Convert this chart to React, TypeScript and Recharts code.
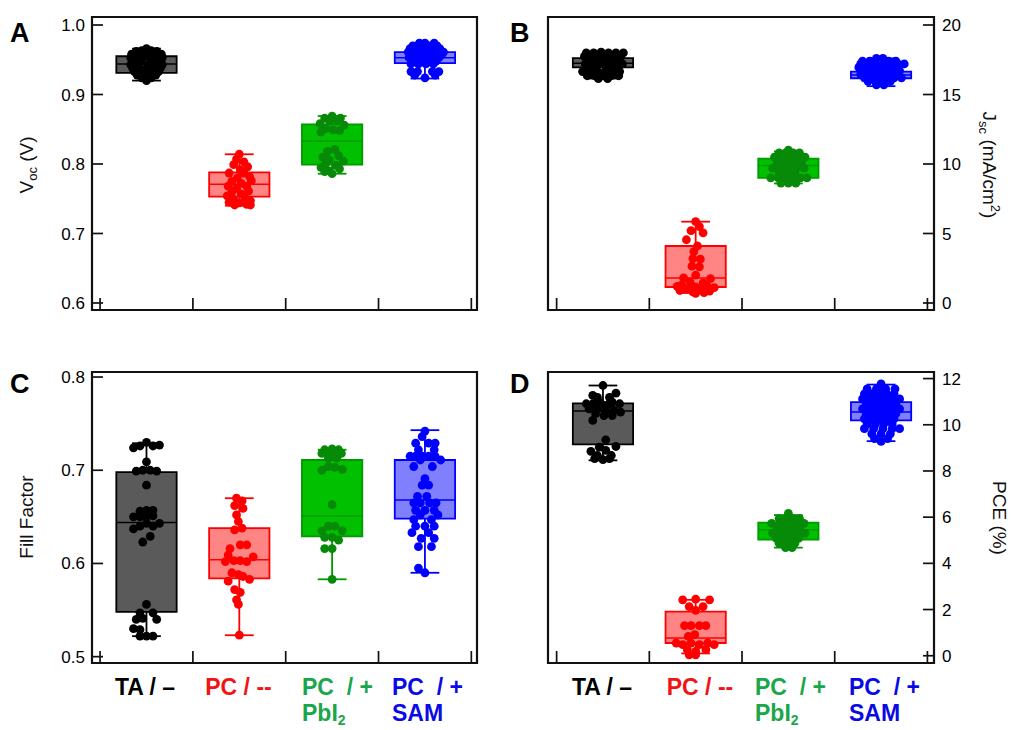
import React from 'react';
import { ComposedChart, Scatter, XAxis, YAxis, ReferenceArea, ReferenceLine } from 'recharts';

type Pt = [number, number]; // [horizontal jitter in category units, value]
type Stats = [number, number, number, number, number]; // [min, q1, median, q3, max]

// ---------- categories ----------
const groupPositions = [1, 2, 3, 4];
const categoryBoundaries = [0.5, 1.5, 2.5, 3.5, 4.5];
const catLine1 = ['TA / –', 'PC / --', 'PC  / +', 'PC  / +'];
const catLine2Main = ['', '', 'PbI', 'SAM'];
const catLine2Sub = ['', '', '2', ''];

// ---------- tick labels ----------
const vocTicks = [0.6, 0.7, 0.8, 0.9, 1.0];
const jscTicks = [0, 5, 10, 15, 20];
const ffTicks = [0.5, 0.6, 0.7, 0.8];
const pceTicks = [0, 2, 4, 6, 8, 10, 12];

// ---------- A: Voc (V) ----------
const vocStats: Stats[] = [
  [0.920, 0.931, 0.944, 0.955, 0.966],
  [0.740, 0.753, 0.771, 0.788, 0.814],
  [0.786, 0.799, 0.833, 0.857, 0.869],
  [0.923, 0.945, 0.953, 0.961, 0.974],
];
const vocTA: Pt[] = [
  [0, 0.966], [-0.11, 0.962], [-0.05, 0.963], [0.05, 0.963], [0.11, 0.962],
  [-0.16, 0.958], [-0.08, 0.958], [0, 0.959], [0.08, 0.958], [0.16, 0.958],
  [-0.17, 0.953], [-0.1, 0.953], [-0.03, 0.954], [0.04, 0.953], [0.1, 0.953], [0.17, 0.953],
  [-0.14, 0.948], [-0.06, 0.948], [0.06, 0.948], [0.14, 0.948],
  [-0.17, 0.943], [-0.08, 0.944], [0.02, 0.943], [0.1, 0.943], [0.17, 0.943],
  [-0.15, 0.938], [-0.07, 0.938], [0.01, 0.938], [0.08, 0.938], [0.15, 0.938],
  [-0.13, 0.933], [-0.04, 0.933], [0.05, 0.933], [0.13, 0.933],
  [-0.1, 0.928], [0, 0.928], [0.1, 0.928], [-0.05, 0.924], [0.05, 0.924], [0, 0.920],
];
const vocPC: Pt[] = [
  [0, 0.814], [-0.03, 0.807], [0.05, 0.803], [-0.06, 0.799], [0.09, 0.796], [0.01, 0.792],
  [-0.11, 0.787], [0.05, 0.787], [0.11, 0.782], [-0.02, 0.780], [0.13, 0.776], [-0.08, 0.775],
  [0.02, 0.772], [-0.12, 0.768], [0.08, 0.768], [-0.03, 0.765], [0.1, 0.761], [-0.08, 0.760],
  [0.02, 0.757], [-0.13, 0.754], [0.06, 0.752], [-0.06, 0.749], [0.12, 0.747], [-0.11, 0.745],
  [0, 0.744], [0.08, 0.742], [-0.05, 0.741], [0.12, 0.741],
];
const vocPbI2: Pt[] = [
  [0, 0.869], [-0.08, 0.866], [0.09, 0.866], [-0.03, 0.862], [0.05, 0.862], [-0.13, 0.858],
  [0.13, 0.856], [-0.07, 0.851], [0.01, 0.849], [0.08, 0.848], [-0.12, 0.846], [0.03, 0.821],
  [-0.05, 0.818], [0.07, 0.812], [-0.1, 0.810], [-0.03, 0.806], [0.12, 0.804], [-0.07, 0.800],
  [0.04, 0.798], [-0.12, 0.795], [0.08, 0.793], [-0.03, 0.790], [0, 0.786], [-0.08, 0.789],
];
const vocSAM: Pt[] = [
  [-0.06, 0.974], [0, 0.974], [0.1, 0.974],
  [-0.13, 0.970], [-0.03, 0.970], [0.05, 0.970], [0.13, 0.970],
  [-0.16, 0.966], [-0.08, 0.966], [0, 0.966], [0.08, 0.966], [0.16, 0.966],
  [-0.18, 0.961], [-0.1, 0.961], [-0.02, 0.961], [0.06, 0.961], [0.14, 0.961], [0.2, 0.961],
  [-0.14, 0.957], [-0.06, 0.957], [0.02, 0.957], [0.1, 0.957], [0.18, 0.957],
  [-0.17, 0.953], [-0.09, 0.953], [-0.01, 0.953], [0.07, 0.953], [0.15, 0.953],
  [-0.12, 0.948], [-0.04, 0.948], [0.04, 0.948], [0.12, 0.948],
  [-0.15, 0.944], [-0.07, 0.944], [0.01, 0.944], [0.09, 0.944],
  [-0.15, 0.933], [-0.08, 0.933], [0.08, 0.933], [0.15, 0.933],
  [-0.11, 0.928], [0.11, 0.928], [0, 0.924],
];

// ---------- B: Jsc (mA/cm2) ----------
const jscStats: Stats[] = [
  [16.15, 16.95, 17.25, 17.62, 18.0],
  [0.72, 1.15, 1.8, 4.1, 5.85],
  [8.6, 9.0, 9.9, 10.38, 10.9],
  [15.6, 16.17, 16.4, 16.64, 17.6],
];
const jscTA: Pt[] = [
  [-0.18, 18.0], [-0.1, 18.0], [-0.02, 18.05], [0.06, 18.0], [0.14, 18.0], [0.22, 18.0],
  [-0.2, 17.75], [-0.13, 17.75], [-0.05, 17.75], [0.03, 17.75], [0.11, 17.75], [0.19, 17.75],
  [-0.17, 17.45], [-0.08, 17.45], [0, 17.45], [0.08, 17.45], [0.17, 17.45],
  [-0.19, 17.2], [-0.11, 17.2], [-0.03, 17.2], [0.05, 17.2], [0.13, 17.2], [0.21, 17.2],
  [-0.15, 16.95], [-0.07, 16.95], [0.07, 16.95], [0.15, 16.95],
  [-0.22, 16.65], [-0.14, 16.65], [-0.06, 16.65], [0.02, 16.65], [0.1, 16.65], [0.18, 16.65],
  [-0.17, 16.35], [-0.09, 16.35], [0, 16.35], [0.09, 16.35], [0.17, 16.35],
  [-0.05, 16.15], [0.05, 16.15],
];
const jscPC: Pt[] = [
  [0, 5.85], [0.04, 5.5], [-0.05, 5.2], [0.08, 5.05], [-0.1, 4.55], [0.02, 4.1], [-0.02, 3.7],
  [-0.03, 3.2], [0.05, 3.15], [-0.04, 2.65], [0.04, 2.6], [0, 2.0], [-0.13, 1.8], [0.16, 1.75],
  [-0.06, 1.5], [0.08, 1.45], [-0.15, 1.3], [0.12, 1.25], [-0.2, 1.2], [0, 1.15], [0.2, 1.1],
  [-0.1, 1.0], [0.06, 0.95], [-0.17, 0.9], [0.15, 0.85], [-0.03, 0.8], [0.09, 0.75], [0, 0.7],
];
const jscPbI2: Pt[] = [
  [0, 11.0],
  [-0.1, 10.8], [-0.03, 10.8], [0.05, 10.8], [0.12, 10.8],
  [-0.15, 10.5], [-0.07, 10.5], [0.02, 10.5], [0.1, 10.5], [0.18, 10.5],
  [-0.12, 10.15], [-0.04, 10.15], [0.05, 10.15], [0.14, 10.15],
  [-0.17, 9.7], [-0.08, 9.7], [0, 9.7], [0.09, 9.7], [0.17, 9.7],
  [-0.1, 9.35], [-0.02, 9.35], [0.07, 9.35],
  [-0.19, 9.0], [-0.11, 9.0], [-0.03, 9.0], [0.05, 9.0], [0.13, 9.0], [0.2, 9.0],
  [-0.08, 8.62], [0, 8.62], [0.08, 8.62],
];
const jscSAM: Pt[] = [
  [-0.05, 17.6], [0.02, 17.6],
  [-0.2, 17.4], [-0.12, 17.4], [0.08, 17.4], [0.16, 17.4],
  [-0.22, 17.2], [-0.14, 17.2], [-0.06, 17.2], [0.02, 17.2], [0.1, 17.2], [0.18, 17.2], [0.25, 17.2],
  [-0.24, 16.95], [-0.16, 16.95], [-0.08, 16.95], [0, 16.95], [0.08, 16.95], [0.16, 16.95],
  [-0.2, 16.7], [-0.12, 16.7], [-0.04, 16.7], [0.04, 16.7], [0.12, 16.7], [0.2, 16.7],
  [-0.22, 16.45], [-0.14, 16.45], [-0.06, 16.45], [0.02, 16.45], [0.1, 16.45], [0.18, 16.45],
  [-0.18, 16.2], [-0.1, 16.2], [-0.02, 16.2], [0.06, 16.2], [0.14, 16.2], [0.22, 16.2],
  [-0.14, 15.95], [-0.06, 15.95], [0.02, 15.95], [0.1, 15.95],
  [-0.05, 15.7], [0.03, 15.7],
];

// ---------- C: Fill Factor ----------
const ffStats: Stats[] = [
  [0.522, 0.548, 0.644, 0.698, 0.729],
  [0.523, 0.584, 0.604, 0.638, 0.670],
  [0.583, 0.629, 0.651, 0.711, 0.722],
  [0.590, 0.648, 0.668, 0.711, 0.743],
];
const ffTA: Pt[] = [
  [0, 0.730], [-0.14, 0.724], [-0.07, 0.726], [0.07, 0.726], [0.14, 0.727], [0, 0.709],
  [-0.11, 0.699], [-0.04, 0.700], [0.04, 0.700], [0.11, 0.699], [0, 0.684],
  [-0.07, 0.656], [0, 0.657], [0.07, 0.657], [-0.14, 0.650], [-0.07, 0.650], [0, 0.650],
  [0.07, 0.651], [0.14, 0.643], [0, 0.643], [-0.14, 0.637], [-0.07, 0.640], [0.07, 0.640],
  [0.04, 0.629], [-0.04, 0.623],
  [0, 0.556], [-0.07, 0.547], [0.07, 0.547], [-0.11, 0.540], [-0.04, 0.541], [0.11, 0.540],
  [-0.14, 0.530], [-0.07, 0.529], [-0.07, 0.522], [0, 0.522], [0.07, 0.522],
];
const ffPC: Pt[] = [
  [-0.03, 0.670], [0.03, 0.667], [-0.05, 0.662], [0.04, 0.659], [-0.03, 0.652], [-0.01, 0.645],
  [0.03, 0.638], [-0.05, 0.636], [0.01, 0.620], [0.08, 0.620], [-0.1, 0.616], [-0.12, 0.609],
  [0.15, 0.607], [-0.15, 0.602], [-0.06, 0.603], [0.01, 0.603], [0.08, 0.602], [-0.08, 0.590],
  [-0.01, 0.588], [0.04, 0.586], [-0.12, 0.581], [0.11, 0.583], [-0.05, 0.572], [0.01, 0.569],
  [-0.03, 0.561], [-0.01, 0.556], [0, 0.523],
];
const ffPbI2: Pt[] = [
  [-0.08, 0.722], [0, 0.723], [0.07, 0.722], [-0.11, 0.718], [-0.04, 0.718], [0.03, 0.718],
  [0.1, 0.718], [-0.04, 0.713], [0.05, 0.713], [-0.11, 0.700], [-0.04, 0.704], [0.03, 0.703],
  [0.11, 0.701], [0, 0.663], [-0.04, 0.640], [0.03, 0.640], [-0.11, 0.635], [0.11, 0.635],
  [-0.08, 0.628], [0, 0.628], [0.07, 0.625], [-0.08, 0.616], [0, 0.616], [0, 0.583],
];
const ffSAM: Pt[] = [
  [0, 0.742], [-0.03, 0.736], [-0.1, 0.729], [0.04, 0.729], [0.11, 0.729], [-0.07, 0.722],
  [0.1, 0.722], [-0.16, 0.715], [-0.1, 0.715], [-0.03, 0.715], [0.04, 0.715], [0.11, 0.715],
  [0.17, 0.711], [-0.05, 0.711], [-0.12, 0.704], [0.08, 0.704], [0, 0.691], [0.04, 0.684],
  [-0.03, 0.684], [-0.08, 0.672], [0.02, 0.672], [-0.12, 0.665], [-0.05, 0.665], [0.05, 0.665],
  [0.12, 0.665], [-0.1, 0.657], [0, 0.657], [0.1, 0.657], [-0.05, 0.652], [0.14, 0.652],
  [-0.12, 0.647], [0.07, 0.647], [-0.1, 0.640], [0, 0.640], [0.1, 0.640], [-0.14, 0.633],
  [0.04, 0.633], [-0.04, 0.627], [0.1, 0.627], [-0.07, 0.618], [0.07, 0.618], [-0.07, 0.595],
  [0, 0.590],
];

// ---------- D: PCE (%) ----------
const pceStats: Stats[] = [
  [8.46, 9.15, 10.6, 10.93, 11.7],
  [0.1, 0.55, 0.77, 1.91, 2.42],
  [4.68, 5.03, 5.45, 5.76, 6.09],
  [9.29, 10.19, 10.55, 10.98, 11.74],
];
const pceTA: Pt[] = [
  [0, 11.7], [-0.11, 11.27], [0.14, 11.37], [-0.06, 11.19], [0.07, 11.19],
  [-0.04, 10.98], [0.1, 10.98], [-0.18, 10.91], [-0.11, 10.91], [-0.02, 10.91], [0.07, 10.91],
  [0.18, 10.91], [0.03, 10.84], [-0.15, 10.69], [-0.06, 10.69], [0.03, 10.62], [0.12, 10.62],
  [0.19, 10.55], [-0.08, 10.48], [0.01, 10.4], [0.1, 10.4], [-0.11, 10.19],
  [0.03, 9.35], [-0.04, 9.03], [0.14, 9.06], [-0.13, 8.85], [0.03, 8.89], [-0.06, 8.67],
  [0.09, 8.67], [0, 8.49], [-0.09, 8.53], [0.07, 8.53],
];
const pcePC: Pt[] = [
  [-0.14, 2.42], [0, 2.45], [0.15, 2.42], [-0.07, 2.13], [0.08, 2.13], [0, 1.96],
  [-0.12, 1.3], [-0.05, 1.3], [0.04, 1.3], [0.11, 1.3], [-0.01, 0.91], [-0.08, 0.84],
  [-0.21, 0.55], [-0.14, 0.48], [-0.05, 0.55], [0.04, 0.48], [0.13, 0.55], [0.2, 0.48],
  [-0.09, 0.26], [0, 0.19], [0.11, 0.26], [-0.07, 0.04], [0, 0.04],
];
const pcePbI2: Pt[] = [
  [0, 6.16],
  [-0.1, 5.94], [-0.03, 5.94], [0.05, 5.94], [0.12, 5.94],
  [-0.18, 5.73], [-0.08, 5.73], [0, 5.73], [0.08, 5.73], [0.17, 5.73],
  [-0.12, 5.51], [-0.04, 5.51], [0.04, 5.51], [0.12, 5.51],
  [-0.17, 5.3], [-0.08, 5.3], [0, 5.3], [0.09, 5.3], [0.18, 5.3],
  [-0.13, 5.08], [-0.05, 5.08], [0.03, 5.08], [0.11, 5.08],
  [-0.1, 4.87], [-0.02, 4.87], [0.07, 4.87],
  [-0.03, 4.68], [0.04, 4.68],
];
const pceSAM: Pt[] = [
  [0, 11.77],
  [-0.15, 11.55], [-0.05, 11.55], [0.05, 11.55], [0.15, 11.55],
  [-0.18, 11.34], [-0.1, 11.34], [-0.02, 11.34], [0.06, 11.34], [0.14, 11.34],
  [-0.2, 11.12], [-0.12, 11.12], [-0.04, 11.12], [0.04, 11.12], [0.12, 11.12], [0.2, 11.12],
  [-0.16, 10.91], [-0.08, 10.91], [0, 10.91], [0.08, 10.91], [0.16, 10.91],
  [-0.2, 10.69], [-0.12, 10.69], [-0.04, 10.69], [0.04, 10.69], [0.12, 10.69], [0.2, 10.69],
  [-0.16, 10.48], [-0.08, 10.48], [0, 10.48], [0.08, 10.48], [0.16, 10.48],
  [-0.18, 10.26], [-0.1, 10.26], [-0.02, 10.26], [0.06, 10.26], [0.14, 10.26],
  [-0.15, 10.04], [-0.06, 10.04], [0.03, 10.04], [0.12, 10.04],
  [-0.18, 9.83], [-0.08, 9.83], [0.02, 9.83], [0.12, 9.83], [0.2, 9.83],
  [-0.1, 9.61], [0, 9.61], [0.1, 9.61], [-0.07, 9.4], [0.07, 9.4], [0, 9.28],
];

// ---------- styles ----------
const FONT = '"Liberation Sans", Arial, Helvetica, sans-serif';
const groupStyles = [
  { point: '#000000', fill: '#5a5a5a', stroke: '#000000', text: '#000000' },
  { point: '#ff0000', fill: '#ff8585', stroke: '#ff0000', text: '#f01414' },
  { point: '#078a07', fill: '#00c000', stroke: '#009a00', text: '#1aa64b' },
  { point: '#0000ff', fill: '#8080ff', stroke: '#0000ff', text: '#0a0ae6' },
];
const BOX_HALF = 0.325;
const CAP_HALF = 0.155;

type PanelProps = {
  left: number; top: number; width: number; height: number;
  margin: { top: number; right: number; bottom: number; left: number };
  side: 'left' | 'right';
  xDomain: [number, number];
  yDomain: [number, number];
  ticks: number[];
  fmt: (v: number) => string;
  stats: Stats[];
  points: Pt[][];
};

function Panel(p: PanelProps) {
  const tickLineStyle = { stroke: '#111', strokeWidth: 1.7 };
  return (
    <div style={{ position: 'absolute', left: p.left, top: p.top }}>
      <ComposedChart width={p.width} height={p.height} margin={p.margin}>
        <XAxis type="number" dataKey="x" domain={p.xDomain} ticks={categoryBoundaries} interval={0}
          allowDataOverflow height={1} axisLine={false} tickFormatter={() => ''}
          tick={{ fontSize: 1, fill: 'none' }} tickSize={-12} tickLine={tickLineStyle} />
        <YAxis type="number" dataKey="y" orientation={p.side} domain={p.yDomain} ticks={p.ticks} interval={0}
          allowDataOverflow width={50} axisLine={false} tickSize={-11} tickMargin={p.side === 'left' ? 18 : 19}
          tickLine={tickLineStyle} tickFormatter={p.fmt}
          tick={{ fontSize: 17, fill: '#000', fontFamily: FONT }} />
        {p.stats.map((s, gi) => {
          const c = groupPositions[gi];
          const st = groupStyles[gi];
          const [mn, q1, md, q3, mx] = s;
          return [
            <ReferenceLine key={`wu${gi}`} segment={[{ x: c, y: q3 }, { x: c, y: mx }]} stroke={st.stroke} strokeWidth={1.8} />,
            <ReferenceLine key={`wl${gi}`} segment={[{ x: c, y: q1 }, { x: c, y: mn }]} stroke={st.stroke} strokeWidth={1.8} />,
            <ReferenceLine key={`cu${gi}`} segment={[{ x: c - CAP_HALF, y: mx }, { x: c + CAP_HALF, y: mx }]} stroke={st.stroke} strokeWidth={1.8} />,
            <ReferenceLine key={`cl${gi}`} segment={[{ x: c - CAP_HALF, y: mn }, { x: c + CAP_HALF, y: mn }]} stroke={st.stroke} strokeWidth={1.8} />,
            <ReferenceArea key={`bx${gi}`} x1={c - BOX_HALF} x2={c + BOX_HALF} y1={q1} y2={q3}
              fill={st.fill} fillOpacity={1} stroke={st.stroke} strokeWidth={1.8} />,
            <ReferenceLine key={`md${gi}`} segment={[{ x: c - BOX_HALF, y: md }, { x: c + BOX_HALF, y: md }]} stroke={st.stroke} strokeWidth={1.5} />,
          ];
        })}
        {p.points.map((pts, gi) => (
          <Scatter key={`sc${gi}`} isAnimationActive={false}
            data={pts.map(([j, v]) => ({ x: groupPositions[gi] + j, y: v }))}
            shape={(sp: any) => <circle cx={sp.cx} cy={sp.cy} r={4.4} fill={groupStyles[gi].point} />} />
        ))}
        <ReferenceArea x1={p.xDomain[0]} x2={p.xDomain[1]} y1={p.yDomain[0]} y2={p.yDomain[1]}
          fill="none" stroke="#111" strokeWidth={2.2} />
      </ComposedChart>
    </div>
  );
}

const leftX: [number, number] = [0.413, 4.561];
const rightX: [number, number] = [0.407, 4.571];

export default function App() {
  const catX1 = [
    [145, 238.5, 302, 392],
    [602, 700, 755, 849],
  ];
  const anchors = ['middle', 'middle', 'start', 'start'] as const;
  return (
    <div style={{ position: 'absolute', left: 0, top: 0, width: 1011, height: 730, background: '#fff', overflow: 'hidden' }}>
      <Panel left={0} top={0} width={505} height={345} margin={{ top: 17, right: 28, bottom: 34, left: 42 }}
        side="left" xDomain={leftX} yDomain={[0.5899, 1.0115]} ticks={vocTicks} fmt={(v) => v.toFixed(1)}
        stats={vocStats} points={[vocTA, vocPC, vocPbI2, vocSAM]} />
      <Panel left={505} top={0} width={506} height={345} margin={{ top: 17, right: 27, bottom: 34, left: 43 }}
        side="right" xDomain={rightX} yDomain={[-0.504, 20.576]} ticks={jscTicks} fmt={(v) => String(v)}
        stats={jscStats} points={[jscTA, jscPC, jscPbI2, jscSAM]} />
      <Panel left={0} top={345} width={505} height={385} margin={{ top: 27, right: 28, bottom: 66, left: 42 }}
        side="left" xDomain={leftX} yDomain={[0.4932, 0.8054]} ticks={ffTicks} fmt={(v) => v.toFixed(1)}
        stats={ffStats} points={[ffTA, ffPC, ffPbI2, ffSAM]} />
      <Panel left={505} top={345} width={506} height={385} margin={{ top: 27, right: 27, bottom: 66, left: 43 }}
        side="right" xDomain={rightX} yDomain={[-0.315, 12.285]} ticks={pceTicks} fmt={(v) => String(v)}
        stats={pceStats} points={[pceTA, pcePC, pcePbI2, pceSAM]} />

      <svg width={1011} height={730} style={{ position: 'absolute', left: 0, top: 0, pointerEvents: 'none' }}
        fontFamily={FONT}>
        <g fontWeight="bold" fontSize={27} fill="#000">
          <text x={10} y={42}>A</text>
          <text x={510} y={42}>B</text>
          <text x={10} y={393}>C</text>
          <text x={510} y={393}>D</text>
        </g>
        <g fontSize={19} fill="#111">
          <text transform="translate(33,165) rotate(-90)" textAnchor="middle">
            V<tspan fontSize={13} dy={4}>oc</tspan><tspan dy={-4}> (V)</tspan>
          </text>
          <text transform="translate(33,517) rotate(-90)" textAnchor="middle">Fill Factor</text>
          <text transform="translate(983,165) rotate(90)" textAnchor="middle">
            J<tspan fontSize={13} dy={4}>sc</tspan><tspan dy={-4}> (mA/cm</tspan><tspan fontSize={13} dy={-8}>2</tspan><tspan dy={8}>)</tspan>
          </text>
          <text transform="translate(993,518) rotate(90)" textAnchor="middle">PCE (%)</text>
        </g>
        <g fontWeight="bold" fontSize={23}>
          {catX1.map((row, ri) =>
            row.map((x, gi) => (
              <g key={`c${ri}${gi}`} fill={groupStyles[gi].text}>
                <text x={x} y={695} textAnchor={anchors[gi]} style={{ whiteSpace: 'pre' }}>{catLine1[gi]}</text>
                {catLine2Main[gi] !== '' && (
                  <text x={x} y={721} textAnchor="start">
                    {catLine2Main[gi]}
                    {catLine2Sub[gi] !== '' && <tspan fontSize={14} dy={4}>{catLine2Sub[gi]}</tspan>}
                  </text>
                )}
              </g>
            ))
          )}
        </g>
      </svg>
    </div>
  );
}
